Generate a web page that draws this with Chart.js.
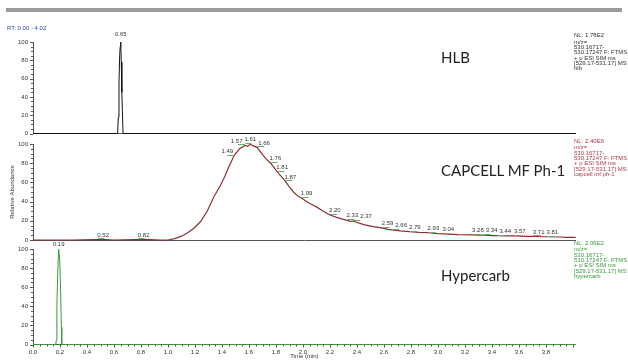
<!DOCTYPE html>
<html><head><meta charset="utf-8">
<script src="https://cdn.jsdelivr.net/npm/chart.js@4.4.1/dist/chart.umd.min.js"></script>
<style>
html,body{margin:0;padding:0;background:#fff;}
#wrap{position:relative;width:628px;height:360px;overflow:hidden;font-family:"Liberation Sans",Arial,sans-serif;}
canvas{position:absolute;left:0;top:0;}
.t{position:absolute;white-space:nowrap;}
.side{font-size:6px;line-height:5.3px;left:574px;}
.side .first{margin-bottom:1.6px;}
.big{font-family:Lato,"Open Sans",sans-serif;font-size:15px;color:#222;left:441px;line-height:16px;}
</style></head><body>
<div id="wrap">
  <canvas id="c1" width="628" height="360"></canvas>
  <canvas id="c2" width="628" height="360"></canvas>
  <canvas id="c3" width="628" height="360"></canvas>
  <div class="t" style="left:6px;top:8px;width:616px;height:4px;background:#9b9b9b"></div>
  <div class="t" id="rt" style="left:7px;top:25px;font-size:6px;color:#2b4c9b"></div>
  <div class="t big" id="n1" style="top:49px"></div>
  <div class="t big" id="n2" style="top:162px"></div>
  <div class="t big" id="n3" style="top:267px"></div>
  <div class="t side" id="s1" style="top:33px;color:#333"></div>
  <div class="t side" id="s2" style="top:138.5px;color:#b23a4a"></div>
  <div class="t side" id="s3" style="top:240.5px;color:#3a9a3a"></div>
</div>
<script>
// ---------- data ----------
const rtRange = "RT: 0.00 - 4.02";
const panelNames = ["HLB", "CAPCELL MF Ph-1", "Hypercarb"];
const nlValues = ["NL: 1.78E2", "NL: 2.40E6", "NL: 2.06E2"];
const filterLines = ["m/z=", "530.16717-", "530.17247 F: FTMS", "+ p ESI SIM ms", "[529.17-531.17] MS"];
const sampleNames = ["hlb", "capcell mf ph-1", "hypercarb"];

const hlbTimes  = [0, 0.620, 0.627, 0.632, 0.637, 0.642, 0.646, 0.650, 0.654, 0.658, 0.662, 0.667, 0.672, 4.02];
const hlbValues = [0, 0,     0,     18,    55,    85,    95,    100,   78,    45,    25,    0,     0,     0];

const capcellTimes  = [0, 0.30, 0.52, 0.60, 0.82, 0.95, 1.00, 1.05, 1.10, 1.14, 1.19, 1.24, 1.29, 1.34, 1.385, 1.42, 1.45, 1.49, 1.53, 1.57, 1.59, 1.61, 1.63, 1.66, 1.70, 1.73, 1.76, 1.79, 1.81, 1.84, 1.87, 1.90, 1.93, 1.96, 1.99, 2.05, 2.10, 2.15, 2.20, 2.25, 2.30, 2.33, 2.35, 2.37, 2.45, 2.52, 2.59, 2.63, 2.66, 2.72, 2.79, 2.86, 2.93, 3.00, 3.04, 3.15, 3.26, 3.30, 3.34, 3.40, 3.44, 3.50, 3.57, 3.65, 3.71, 3.76, 3.81, 3.90, 3.95, 4.02];
const capcellValues = [0, 0,    0.6,  0,    0.6,  0,    0,    1.5,  4,    7,    12,   19,   30,   45,   56,    66,   76,   88,   95,   98.5, 97.5, 100,  98,   96.5, 89,   84,   80,   74.5, 71,   66,   61,   55,   50,   46,   43.5, 38,   34.5, 30,   26,   23.5, 21.5, 20.5, 19.5, 19.8, 16,   14,   12.3, 11,   10.6, 9.5,  8.8,  8,    7.6,  6.6,  6.4,  5.6,  5.3,  5,    5,    4.6,  4.6,  4.2,  4.3,  3.8,  3.7,  3.4,  3.4,  3.1,  2.8,  2.8];

const hyperTimes  = [0, 0.168, 0.174, 0.177, 0.183, 0.190, 0.198, 0.205, 0.210, 0.213, 4.02];
const hyperValues = [0, 0,     5,     40,    75,    100,   89,    53,    18,    0,     0];

const hlbPeaks = [0.65];
const capcellPeaks = [0.52, 0.82, 1.49, 1.57, 1.61, 1.66, 1.76, 1.81, 1.87, 1.99, 2.20, 2.33, 2.37, 2.59, 2.66, 2.79, 2.93, 3.04, 3.26, 3.34, 3.44, 3.57, 3.71, 3.81];
const hyperPeaks = [0.19];

const yTickValues = [0, 20, 40, 60, 80, 100];
const xTickLabels = ["0.0","0.2","0.4","0.6","0.8","1.0","1.2","1.4","1.6","1.8","2.0","2.2","2.4","2.6","2.8","3.0","3.2","3.4","3.6","3.8","4.0"];
const xAxisTitle = "Time (min)";
const yAxisTitle = "Relative Abundance";

// ---------- text ----------
document.getElementById('rt').textContent = rtRange;
['n1','n2','n3'].forEach((id,i)=>document.getElementById(id).textContent = panelNames[i]);
['s1','s2','s3'].forEach((id,i)=>{
  const el = document.getElementById(id);
  const lines = [nlValues[i], ...filterLines, sampleNames[i]];
  lines.forEach((l,k)=>{ const d=document.createElement('div'); d.textContent=l; if(k===0) d.className='first'; el.appendChild(d); });
});

// ---------- plugins ----------
Chart.defaults.font.family = '"Liberation Sans", Arial, sans-serif';
const peakLabelPlugin = {
  id: 'peakLabels',
  afterDatasetsDraw(chart, args, opts) {
    const ds = chart.data.datasets[0];
    const meta = chart.getDatasetMeta(0);
    const ctx = chart.ctx;
    ctx.save();
    ctx.font = '6px "Liberation Sans", Arial, sans-serif';
    let maxI = 0; ds.data.forEach((p, i) => { if (p.y > ds.data[maxI].y) maxI = i; });
    const tMax = ds.data[maxI].x;
    const H = 6;
    const items = [];
    (opts.times || []).forEach(t => {
      const i = ds.data.findIndex(p => Math.abs(p.x - t) < 1e-9);
      if (i < 0) return;
      const el = meta.data[i], v = ds.data[i].y;
      const text = t.toFixed(2), w = ctx.measureText(text).width;
      let mode;
      if (!opts.smart || Math.abs(t - tMax) < 1e-9 || (t < tMax && v < 20)) mode = 'c';
      else if (t < tMax) mode = 'r';
      else mode = 'l';
      const left = mode === 'c' ? el.x - w / 2 : mode === 'r' ? el.x - 1 - w : el.x - 1;
      const bottom = el.y - opts.offset;
      items.push({ t, el, text, w, mode, left, bottom });
    });
    const gap = 2;
    const vOverlap = (a, b) => Math.abs(a.bottom - b.bottom) < H;
    const center = items.filter(o => o.mode === 'c');
    // rising side: process from apex outward, push left
    const placed = [...center];
    items.filter(o => o.mode === 'r').sort((a, b) => b.t - a.t).forEach(o => {
      placed.forEach(p => { if (vOverlap(o, p) && o.left + o.w + gap > p.left && o.left < p.left + p.w + gap) o.left = p.left - gap - o.w; });
      placed.push(o);
    });
    items.filter(o => o.mode === 'l').sort((a, b) => a.t - b.t).forEach(o => {
      placed.forEach(p => { if (vOverlap(o, p) && o.left < p.left + p.w + gap && o.left + o.w + gap > p.left) o.left = p.left + p.w + gap; });
      placed.push(o);
    });

    ctx.textAlign = 'left';
    ctx.textBaseline = 'bottom';
    items.forEach(o => {
      if (opts.underline) {
        ctx.strokeStyle = opts.underline; ctx.lineWidth = 1;
        const y = Math.round(o.el.y) - 0.5;
        ctx.beginPath();
        if (o.mode === 'r') { ctx.moveTo(o.el.x - 7, y); ctx.lineTo(o.el.x, y); }
        else if (o.mode === 'l') { ctx.moveTo(o.el.x, y); ctx.lineTo(o.el.x + 7, y); }
        else { ctx.moveTo(o.el.x - 5, y); ctx.lineTo(o.el.x + 1, y); }
        ctx.stroke();
      }
      ctx.fillStyle = '#333';
      ctx.fillText(o.text, o.left, o.bottom);
    });
    ctx.restore();
  }
};
const minorTicksPlugin = {
  id: 'minorTicks',
  afterDraw(chart, args, opts) {
    const ctx = chart.ctx, a = chart.chartArea, y = chart.scales.y, x = chart.scales.x;
    ctx.save(); ctx.strokeStyle = '#555'; ctx.lineWidth = 1;
    for (let v = 0; v <= 100; v += 5) {
      const py = Math.round(y.getPixelForValue(v)) + 0.5, len = v % 20 === 0 ? 3 : 2;
      ctx.beginPath(); ctx.moveTo(a.left - len, py); ctx.lineTo(a.left, py); ctx.stroke();
    }
    if (opts.xTicks) {
      for (let k = 0; k <= 80; k++) {
        const px = Math.round(x.getPixelForValue(k * 0.05)) + 0.5, len = k % 4 === 0 ? 3 : 2;
        ctx.beginPath(); ctx.moveTo(px, a.bottom); ctx.lineTo(px, a.bottom + len); ctx.stroke();
      }
    }
    ctx.restore();
  }
};

function makeChart(id, times, values, color, cfg) {
  const data = times.map((t, i) => ({ x: t, y: values[i] }));
  return new Chart(document.getElementById(id), {
    type: 'line',
    data: { datasets: [{ data, borderColor: color, borderWidth: cfg.lw || 1, pointRadius: 0, tension: 0, fill: false, clip: false }] },
    options: {
      responsive: false, animation: false, events: [],
      layout: { padding: { left: 0, right: 52.3, top: cfg.top, bottom: cfg.bottom } },
      plugins: {
        legend: { display: false }, tooltip: { enabled: false },
        peakLabels: { times: cfg.peaks, offset: cfg.labelOffset, underline: cfg.underline, smart: !!cfg.underline },
        minorTicks: { xTicks: cfg.xTicks }
      },
      scales: {
        x: {
          type: 'linear', min: 0, max: 4.02,
          grid: { display: false, drawTicks: false },
          border: { color: '#555', width: 1 },
          afterBuildTicks: s => { s.ticks = s.ticks.filter(t => Math.abs(t.value / 0.2 - Math.round(t.value / 0.2)) < 1e-6); },
          ticks: { display: cfg.xTicks, stepSize: 0.2, padding: 4, maxRotation: 0, autoSkip: false, color: '#333', font: { size: 6 },
                   callback: v => xTickLabels[Math.round(v / 0.2)] },
          title: { display: cfg.xTicks, text: xAxisTitle, color: '#333', font: { size: 6 }, padding: 0 },
          afterFit: s => { s.height = cfg.xHeight; }
        },
        y: {
          min: 0, max: 100,
          grid: { display: false, drawTicks: false },
          border: { color: '#555', width: 1 },
          afterBuildTicks: s => { s.ticks = yTickValues.map(v => ({ value: v })); },
          ticks: { padding: 5, color: '#333', font: { size: 6 } },
          title: { display: !!cfg.yTitle, text: yAxisTitle, color: '#333', font: { size: 6 }, padding: { top: 9, bottom: 0 } },
          afterFit: s => { s.width = 33; }
        }
      }
    },
    plugins: [peakLabelPlugin, minorTicksPlugin]
  });
}

makeChart('c1', hlbTimes, hlbValues, '#111', { top: 42, bottom: 226.5, xHeight: 0, xTicks: false, peaks: hlbPeaks, labelOffset: 5 });
makeChart('c2', capcellTimes, capcellValues, '#8f2f35', { top: 144, bottom: 120, xHeight: 0, xTicks: false, peaks: capcellPeaks, labelOffset: 1.5, underline: '#5cb85c', yTitle: true, lw: 1.2 });
makeChart('c3', hyperTimes, hyperValues, '#3a9a3a', { top: 249, bottom: 0, xHeight: 15.5, xTicks: true, peaks: hyperPeaks, labelOffset: 1.5 });
</script>
</body></html>
